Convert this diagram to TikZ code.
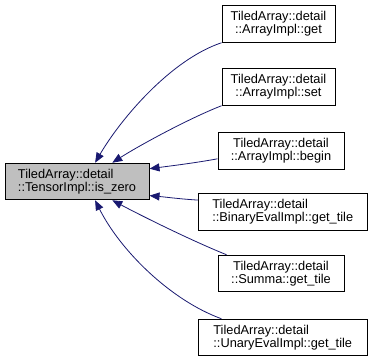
\documentclass[tikz,border=0pt]{standalone}
\usepackage{fontspec}
\setmainfont{Liberation Sans}
\usetikzlibrary{
  arrows.meta,
}
\definecolor{callblue}{RGB}{25,25,112}
\tikzset{
  fn/.style = {
      rectangle,
      draw=black,
      line width=1pt,
      fill=white,
      inner sep=0pt,
      minimum height=36.5pt,
      font=\fontsize{12.8}{11}\selectfont,
      align=center,
    },
  fnl/.style = {
      fn,
      align=left,
    },
  cur/.style = {
      fnl,
      fill=gray!50,
    },
  call/.style = {
      -{Triangle[length=10pt, width=8pt]},
      draw=callblue,
      line width=0.8pt,
    },
}

\begin{document}
\begin{tikzpicture}[x=1pt, y=-1pt]
    \useasboundingbox (0,0) rectangle (371,363);

    \node[cur, minimum width=144pt]   (zero)   at (77,181.5)   {TiledArray::detail\\::TensorImpl::is\_zero};

    \node[fn,  minimum width=113pt]   (get)    at (278.5,24)   {TiledArray::detail\\::ArrayImpl::get};
    \node[fn,  minimum width=113pt]   (set)    at (278.5,87)   {TiledArray::detail\\::ArrayImpl::set};
    \node[fn,  minimum width=126pt]   (begin)  at (281,151)    {TiledArray::detail\\::ArrayImpl::begin};
    \node[fnl, minimum width=168.5pt] (binary) at (282.75,212) {TiledArray::detail\\::BinaryEvalImpl::get\_tile};
    \node[fn,  minimum width=126pt]   (summa)  at (281,273.5)  {TiledArray::detail\\::Summa::get\_tile};
    \node[fnl, minimum width=168.5pt] (unary)  at (282.75,337.5) {TiledArray::detail\\::UnaryEvalImpl::get\_tile};

    % callers point back to is_zero
    \draw[call] (get.south west) .. controls (170,60) and (120,120) .. (zero.46);
    \draw[call] (set.south west) .. controls (190,118) and (140,145) .. (zero.28);
    \draw[call] (begin.187) .. controls (195,163) and (170,166) .. (zero.10);
    \draw[call] (binary.172) .. controls (180,199) and (165,197) .. (zero.-11);
    \draw[call] (summa.161) .. controls (190,240) and (140,215) .. (zero.-28);
    \draw[call] (unary.163) .. controls (170,300) and (120,250) .. (zero.-46);
  \end{tikzpicture}
\end{document}
